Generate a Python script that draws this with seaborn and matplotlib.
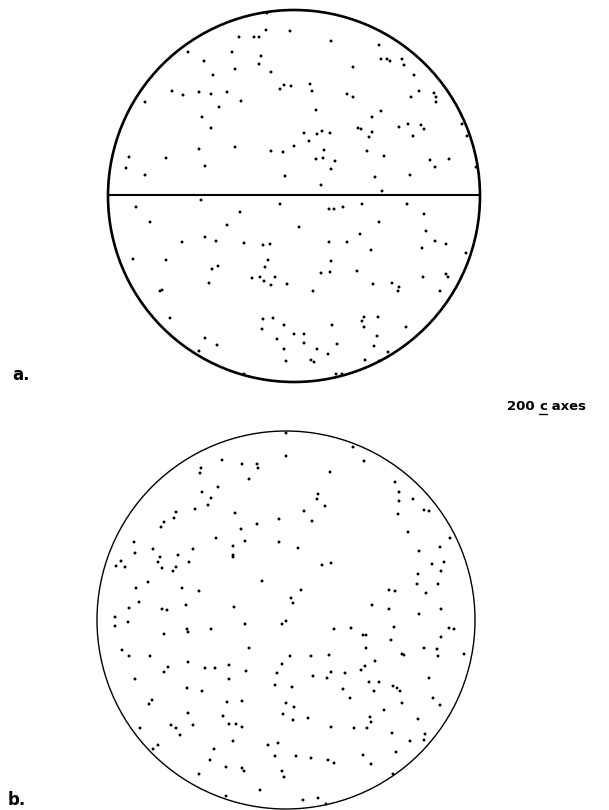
import numpy as np
import pandas as pd
import seaborn as sns
import matplotlib.pyplot as plt
from matplotlib.patches import Circle
from matplotlib.lines import Line2D

sns.set_style("white")
plt.rcParams['font.family'] = ['DejaVu Sans']
plt.rcParams['text.color'] = 'black'

# c-axis poles, net (a): x east, y north, net radius NET_RADIUS_A
net_a_x = [-27, -28, -4, -55, -40, -35, -106, -62, -33, -90, -35, -59, -23, -81, -14, -10, -3,
           -122, -111, -95, -83, -67, -53, -149, -75, -92, -83, -95, -59, -23, -11, 0, -165, -128,
           -168, -89, -149, -9,
           37, 85, 59, 87, 93, 96, 108, 110, 120, 16, 18, 53, 59, 125, 117, 140, 142, 142, 22, 87,
           78, 10, 15, 23, 28, 36, 64, 67, 78, 75, 105, 114, 127, 130, 119, 168, 173, 30, 73, 90,
           22, 29, 41, 37, 136, 141, 155, 182, 81, 116, 27, 88,
           -93, -14, -158, -54, -144, -67, -89, -78, -112, -50, -31, -24, -161, -128, -26, -29, -76,
           -82, -42, -34, -30, -19, -23, -7, -85, -132, -134, -124, -31, -21, -32, -10, 0, -17, -89,
           -77, -95, -10, -8, -50,
           35, 40, 49, 68, 113, 130, 5, 85, 132, 66, 35, 53, 141, 152, 128, 77, 172, 37, 27, 36, 63,
           152, 154, 129, 79, 98, 105, 104, 19, 146, 70, 84, 68, 70, 38, 112, 10, 83, 10, 43, 80,
           23, 34, 94, 17, 20, 71, 85, 42, 48]
net_a_y = [183, 166, 165, 159, 159, 159, 144, 144, 140, 135, 132, 127, 124, 121, 107, 111, 110,
           105, 101, 104, 102, 104, 95, 94, 89, 79, 68, 47, 49, 45, 44, 50, 39, 38,
           28, 30, 21, 20,
           155, 151, 129, 137, 137, 135, 137, 131, 121, 112, 105, 102, 99, 105, 99, 103, 99, 94, 86, 85,
           79, 63, 55, 62, 65, 63, 68, 67, 64, 59, 69, 72, 71, 67, 60, 72, 60, 46, 45, 40,
           37, 38, 35, 27, 36, 29, 37, 29, 19, 21, 11, 5,
           -4, -8, -11, -16, -26, -29, -41, -45, -46, -47, -49, -48, -63, -64, -64, -71, -70,
           -73, -82, -81, -85, -81, -89, -88, -87, -94, -95, -122, -123, -122, -133, -129, -138, -143, -142,
           -149, -155, -153, -165, -178,
           -13, -13, -11, -8, -8, -18, -31, -26, -35, -38, -46, -46, -45, -48, -52, -54, -57, -65, -77, -76, -75,
           -78, -81, -81, -88, -87, -91, -95, -95, -95, -121, -121, -125, -131, -129, -131, -138, -140, -147, -148, -150,
           -153, -158, -156, -164, -166, -164, -165, -178, -178]

# c-axis poles, net (b)
net_b_x = [0, 0, -64, -44, -29, -28, -85, -86, -37, -68, -84, -75, -78, -91, -110, -112, -122, -125,
           -51, -7, -29, -45, -70, -41, -7, -152, -151, -133, -93, -53, -53, -53, 12, -126, -128,
           -124, -108, -110, -113, -97, -165, -170, -161, -138, -24, -150, -104, -87, 5, 7, -147,
           -157, -124, -119, -100, -52, -171,
           67, 78, 44, 109, 113, 113, 127, 112, 138, 143, 32, 31, 39, 18, 26, 122, 164, 154, 133,
           36, 45, 146, 158, 155, 132, 15, 131, 152, 140, 103, 109, 86, 103, 133, 155,
           -171, -158, -122, -99, -98, -75, -41, -4, 0, -164, -157, -136, -37, 4, -98, -118, -122,
           -81, -71, -57, -40, -4, -9, -151, -57, -11, 6, -99, -84, -134, -137, -59, -44, 0, 8,
           -98, -63, -3, 7, -115, -110, -93, -57, -50, -44, -146, -106, -53, -128, -133, -18, -8,
           -72, -11, 10, -76, -60, -44, -42, -4, -2, -87, -26, -60,
           48, 65, 77, 80, 108, 105, 163, 168, 155, 80, 138, 151, 152, 178, 25, 43, 116, 118, 89,
           79, 75, 45, 59, 27, 41, 143, 83, 93, 107, 111, 114, 57, 88, 64, 147, 116, 154, 98, 22,
           84, 85, 45, 68, 81, 132, 106, 139, 124, 138, 110, 25, 42, 48, 77, 85, 107, 17, 32, 40]
net_b_y = [187, 164, 160, 156, 156, 152, 152, 147, 141, 133, 128, 122, 115, 111, 108, 102, 98, 93,
           107, 101, 96, 91, 82, 79, 78, 78, 67, 71, 71, 74, 65, 63, 72, 63, 58,
           52, 65, 53, 49, 58, 59, 54, 53, 38, 39, 32, 32, 29, 22, 17, 18,
           12, 11, 10, 15, 13, 3,
           173, 159, 148, 138, 128, 119, 121, 106, 110, 109, 126, 121, 114, 109, 99, 88, 82, 73, 69,
           55, 57, 56, 58, 49, 46, 30, 36, 36, 27, 30, 29, 15, 11, 6, 11,
           -6, -2, -14, -9, -12, -9, -4, -4, -1, -30, -36, -36, -28, -36, -42, -47, -52,
           -48, -48, -45, -51, -44, -53, -59, -59, -65, -67, -68, -71, -80, -84, -82, -81, -83, -87,
           -93, -96, -94, -100, -105, -108, -105, -104, -104, -107, -108, -115, -121, -125, -129, -125, -123,
           -129, -136, -136, -140, -147, -148, -151, -151, -157, -154, -170, -176,
           -9, -8, -15, -15, -7, -20, -8, -9, -17, -28, -28, -29, -36, -34, -36, -35, -34, -35, -41,
           -46, -50, -52, -53, -56, -58, -58, -62, -62, -66, -68, -71, -69, -71, -78, -78, -83, -85, -90, -98,
           -97, -102, -107, -108, -108, -99, -113, -114, -121, -120, -132, -138, -140, -143, -135, -144, -154, -180, -178, -184]

NET_RADIUS_A = 186
NET_RADIUS_B = 189
panel_labels = ["a.", "b."]
caption_parts = ["200 ", "c", " axes"]

W, H = 609, 810
fig = plt.figure(figsize=(W / 100, H / 100), dpi=100)
fig.patch.set_facecolor("white")

PAD = 6


def net_axes(cx, cy, r):
    """Axes whose data units equal pixels, centred on (cx, cy) in figure pixels."""
    ax = fig.add_axes([(cx - r - PAD) / W, 1 - (cy + r + PAD) / H,
                       2 * (r + PAD) / W, 2 * (r + PAD) / H])
    ax.set_xlim(-r - PAD, r + PAD)
    ax.set_ylim(-r - PAD, r + PAD)
    ax.set_axis_off()
    return ax


def draw_net(ax, xs, ys, radius, rim_width):
    df = pd.DataFrame({"x": xs, "y": ys})
    ax.add_patch(Circle((0, 0), radius, fill=False, edgecolor="black",
                        linewidth=rim_width, zorder=2))
    sns.scatterplot(data=df, x="x", y="y", ax=ax, s=4.5, color="black",
                    edgecolor="none", linewidth=0, legend=False, zorder=3)
    ax.set_axis_off()


ax_a = net_axes(294, 196, NET_RADIUS_A)
draw_net(ax_a, net_a_x, net_a_y, NET_RADIUS_A, 1.9)
ax_a.hlines(1, -NET_RADIUS_A, NET_RADIUS_A, color="black", linewidth=1.5, zorder=2)

ax_b = net_axes(286, 620, NET_RADIUS_B)
draw_net(ax_b, net_b_x, net_b_y, NET_RADIUS_B, 1.0)

# panel letters
fig.text(12 / W, 1 - 375 / H, panel_labels[0], fontsize=12, fontweight="bold",
         ha="left", va="center", color="black")
fig.text(8 / W, 1 - 800 / H, panel_labels[1], fontsize=12, fontweight="bold",
         ha="left", va="center", color="black")

# caption with underlined "c"
fig.canvas.draw()
renderer = fig.canvas.get_renderer()
x_px, y_px = 507, 406
texts = []
for part in caption_parts:
    t = fig.text(x_px / W, 1 - y_px / H, part, fontsize=9.5, fontweight="bold",
                 ha="left", va="center", color="black")
    bb = t.get_window_extent(renderer=renderer)
    texts.append(bb)
    x_px = bb.x1
c_bb = texts[1]
y_line = (c_bb.y0 - 1) / H
fig.add_artist(Line2D([c_bb.x0 / W, c_bb.x1 / W], [y_line, y_line],
                      transform=fig.transFigure, color="black", linewidth=1.0))

fig.savefig("out.png", dpi=100, facecolor="white")
